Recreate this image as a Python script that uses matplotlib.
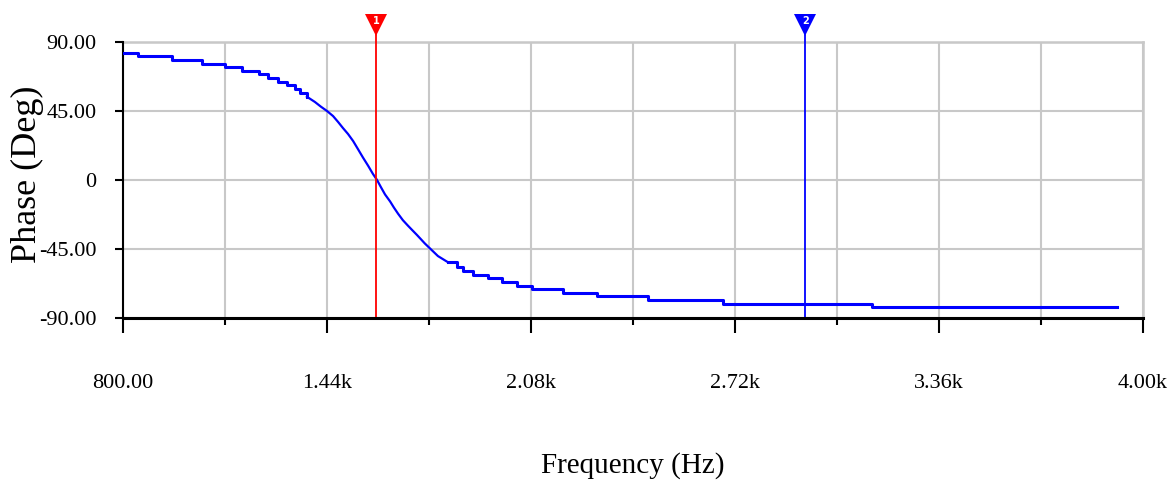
import matplotlib
matplotlib.use("Agg")
import matplotlib.pyplot as plt
from matplotlib.ticker import FixedLocator, NullFormatter

# phase response (staircase as drawn)
freq_hz = [800, 847, 954, 1048, 1120, 1173, 1227, 1255, 1286, 1315,
           1340, 1355, 1377, 1402, 1421, 1440, 1459, 1475, 1490, 1506,
           1522, 1537, 1553, 1569, 1584, 1597, 1609, 1622, 1638, 1650,
           1663, 1678, 1694, 1707, 1722, 1735, 1747, 1763, 1776, 1788,
           1820, 1848, 1867, 1898, 1945, 1989, 2036, 2083, 2180, 2287,
           2447, 2682, 3150, 3918]
phase_deg = [83.0, 81.1, 78.5, 75.9, 73.9, 71.3, 68.9, 66.3, 64.1, 62.0,
             59.4, 56.9, 54.3, 50.9, 47.8, 45.0, 41.7, 37.8, 33.9, 30.0,
             25.4, 20.2, 14.6, 9.3, 4.0, 0.0, -4.6, -9.4, -14.0, -18.0,
             -22.0, -26.2, -29.8, -32.6, -35.8, -38.7, -41.4, -44.6, -47.2, -49.6,
             -53.7, -56.5, -59.2, -62.0, -64.1, -66.3, -68.9, -70.9, -73.5, -75.7,
             -78.3, -80.9, -82.5, -82.5]

# cursors
cursor_freq = [1595, 2940]
cursor_names = ["1", "2"]
cursor_colors = ["#ff0000", "#0000ff"]

x_major = [800, 1440, 2080, 2720, 3360, 4000]
x_major_labels = ["800.00", "1.44k", "2.08k", "2.72k", "3.36k", "4.00k"]
x_minor = [1120, 1760, 2400, 3040, 3680]
y_ticks = [-90, -45, 0, 45, 90]
y_labels = ["-90.00", "-45.00", "0", "45.00", "90.00"]

serif = ["Liberation Serif", "DejaVu Serif"]

fig = plt.figure(figsize=(11.75, 5.01), dpi=100)
ax = fig.add_axes([123 / 1175, 1 - 318 / 501, 1020 / 1175, 276 / 501])

ax.set_xlim(800, 4000)
ax.set_ylim(-90, 90)

ax.xaxis.set_major_locator(FixedLocator(x_major))
ax.xaxis.set_minor_locator(FixedLocator(x_minor))
ax.xaxis.set_minor_formatter(NullFormatter())
ax.set_xticklabels(x_major_labels, family=serif, fontsize=16)
ax.set_yticks(y_ticks)
ax.set_yticklabels(y_labels, family=serif, fontsize=16)

ax.grid(True, which="both", color="#c8c8c8", linewidth=1.5, zorder=0)
ax.set_axisbelow(True)

for s in ["top", "right"]:
    ax.spines[s].set_visible(False)
ax.spines["left"].set_linewidth(1.5)
ax.spines["bottom"].set_linewidth(2.2)
ax.spines["bottom"].set_zorder(5)

ax.tick_params(axis="x", which="major", length=11, width=1.5, pad=29, direction="out")
ax.tick_params(axis="x", which="minor", length=5, width=1.5, direction="out")
ax.tick_params(axis="y", length=6, width=1.5, pad=13, direction="out")

# top/right borders drawn as gray grid lines
ax.axhline(90, color="#c8c8c8", linewidth=1.8, zorder=0, clip_on=False)
ax.axvline(4000, color="#c8c8c8", linewidth=1.8, zorder=0, clip_on=False)

# flat parts drawn as steps, steep middle part as a plain line
lo, hi = 12, 40
ax.plot(freq_hz[:lo + 1], phase_deg[:lo + 1], drawstyle="steps-post", color="#0000ff", linewidth=2.2, zorder=3)
ax.plot(freq_hz[lo:hi + 1], phase_deg[lo:hi + 1], color="#0000ff", linewidth=1.6, zorder=3)
ax.plot(freq_hz[hi:], phase_deg[hi:], drawstyle="steps-post", color="#0000ff", linewidth=2.2, zorder=3)

trans = ax.get_xaxis_transform()
for f, name, c in zip(cursor_freq, cursor_names, cursor_colors):
    ax.plot([f, f], [0, 1.025], color=c, linewidth=1.3, transform=trans, clip_on=False, zorder=4)
    ax.plot([f], [1.063], marker="v", markersize=16, color=c, markeredgewidth=0,
            transform=trans, clip_on=False, zorder=6)
    ax.text(f, 1.075, name, color="white", fontsize=7, fontweight="bold", ha="center",
            va="center", transform=trans, zorder=7)

ax.set_xlabel("Frequency (Hz)", family=serif, fontsize=21)
ax.xaxis.set_label_coords(0.5, -0.535)
ax.xaxis.label.set_verticalalignment("center")

ax.set_ylabel("Phase (Deg)", family=serif, fontsize=26)
ax.yaxis.set_label_coords(-0.094, 0.52)
ax.yaxis.label.set_verticalalignment("center")

fig.savefig("out.png", dpi=100)
